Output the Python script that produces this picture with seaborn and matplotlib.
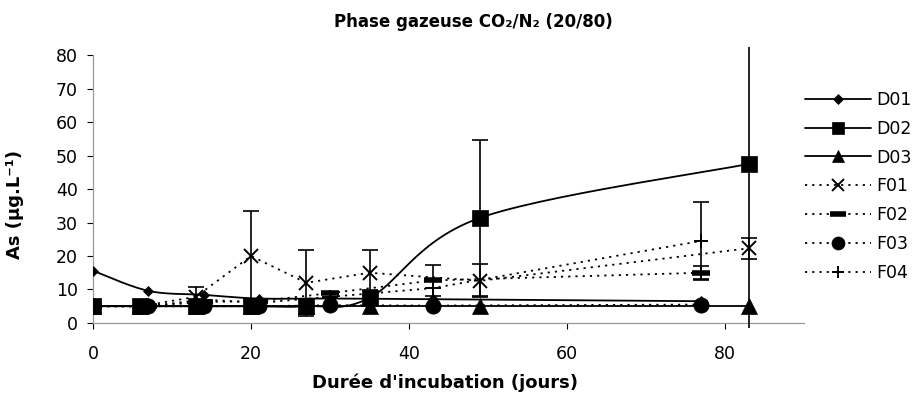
import numpy as np
import pandas as pd
import matplotlib
matplotlib.use("Agg")
import matplotlib.pyplot as plt
import seaborn as sns
from matplotlib.lines import Line2D

# Sampling days (two sampling calendars)
days_a = [0, 6, 13, 20, 27, 35, 49, 83]
days_b = [0, 7, 14, 21, 30, 43, 77]

# Arsenic concentrations (µg/L)
d01 = [15.6, 9.6, 8.4, 7.3, 7.3, 7.1, 6.5]
d02 = [5.0, 5.0, 5.0, 5.0, 5.0, 7.5, 31.4, 47.5]
d02_err = [0, 0, 0, 0, 2.3, 2.3, 23.3, 55.0]
d03 = [5.0, 5.0, 5.0, 5.0, 5.0, 5.0, 5.0, 5.0]
f01 = [5.0, 5.0, 7.8, 20.0, 12.0, 15.0, 12.6, 22.3]
f01_err = [0, 0, 2.8, 13.4, 9.8, 6.7, 4.9, 3.2]
f02 = [5.0, 5.0, 6.3, 6.5, 8.9, 12.7, 15.0]
f02_err = [0, 0, 0, 0, 0, 4.6, 2.0]
f03 = [5.0, 5.0, 5.0, 5.0, 5.3, 5.2, 5.5]
f04 = [5.0, 5.0, 7.0, 6.0, 7.8, 10.4, 24.5]
f04_err = [0, 0, 0, 0, 0, 0, 11.6]

series = [
    # name, days, values, errors, marker, marker size, solid?, smooth?
    ("D01", days_b, d01, None, "D", 5.5, True, True),
    ("D02", days_a, d02, d02_err, "s", 11, True, True),
    ("D03", days_a, d03, None, "^", 11, True, False),
    ("F01", days_a, f01, f01_err, "x", 10, False, False),
    ("F02", days_b, f02, f02_err, "_", 13, False, False),
    ("F03", days_b, f03, None, "o", 11, False, False),
    ("F04", days_b, f04, f04_err, "+", 10, False, False),
]


def smooth_curve(x, y, kx=7.9, ky=3.35, n=30):
    """Bezier smoothing through every point, computed in screen-like units."""
    p = np.column_stack([np.asarray(x, float) * kx, np.asarray(y, float) * ky])
    out = []
    m = len(p)
    for i in range(m - 1):
        p0 = p[i - 1] if i > 0 else p[i]
        p1, p2 = p[i], p[i + 1]
        p3 = p[i + 2] if i + 2 < m else p[i + 1]
        c1 = p1 + (p2 - p0) / 6.0
        c2 = p2 - (p3 - p1) / 6.0
        t = np.linspace(0, 1, n)[:, None]
        seg = ((1 - t) ** 3) * p1 + 3 * ((1 - t) ** 2) * t * c1 + 3 * (1 - t) * t ** 2 * c2 + t ** 3 * p2
        out.append(seg if i == 0 else seg[1:])
    out = np.vstack(out)
    return out[:, 0] / kx, out[:, 1] / ky


sns.set_theme(style="white")
plt.rcParams["font.family"] = ["DejaVu Sans"]
plt.rcParams["text.color"] = "black"
plt.rcParams["axes.labelcolor"] = "black"

fig = plt.figure(figsize=(9.18, 3.96), dpi=100)
ax = fig.add_axes([93 / 918, (396 - 328) / 396, 711 / 918, (328 - 46.7) / 396])

handles = []
for name, days, vals, errs, mk, ms, solid, smooth in series:
    ls = "-" if solid else (0, (1.2, 2.8))
    if smooth:
        sx, sy = smooth_curve(days, vals)
    else:
        sx, sy = np.asarray(days, float), np.asarray(vals, float)
    line_df = pd.DataFrame({"x": sx, "y": sy})
    sns.lineplot(data=line_df, x="x", y="y", ax=ax, color="black", lw=1.3,
                 linestyle=ls, sort=False, estimator=None, zorder=2)
    if errs is not None:
        ax.errorbar(days, vals, yerr=errs, fmt="none", ecolor="black",
                    elinewidth=1.2, capsize=5.5, capthick=1.2, zorder=3)
    mew = 4 if mk == "_" else (1.4 if mk in ("x", "+") else 0.5)
    ax.plot(days, vals, linestyle="none", marker=mk, markersize=ms,
            color="black", markeredgecolor="black", markeredgewidth=mew, zorder=4)
    handles.append(Line2D([], [], color="black", lw=1.3, linestyle=ls, marker=mk,
                          markersize=ms * 0.85, markeredgewidth=mew))

ax.set_xlim(0, 90)
ax.set_ylim(-1.5, 82.5)
ax.set_xticks([0, 20, 40, 60, 80])
ax.set_yticks(range(0, 81, 10))
ax.tick_params(axis="both", labelsize=12.5, colors="black", length=4, width=0.8,
               direction="out", left=True, bottom=True)
for t in ax.xaxis.get_ticklines() + ax.yaxis.get_ticklines():
    t.set_color("#9a9a9a")

for s in ("top", "right"):
    ax.spines[s].set_visible(False)
ax.spines["left"].set_bounds(0, 80)
ax.spines["bottom"].set_position(("data", 0))
for s in ("left", "bottom"):
    ax.spines[s].set_color("#9a9a9a")
    ax.spines[s].set_linewidth(0.9)
ax.xaxis.set_tick_params(pad=12)
ax.yaxis.set_tick_params(pad=7)

ax.set_xlabel("")
ax.set_ylabel("As (µg.L⁻¹)", fontsize=13, fontweight="bold")
ax.yaxis.set_label_coords(-0.097, 0.44)
fig.text(445 / 918, 1 - 383 / 396, "Durée d'incubation (jours)", ha="center",
         va="center", fontsize=13, fontweight="bold")
fig.text(473 / 918, 1 - 22 / 396, "Phase gazeuse CO₂/N₂ (20/80)", ha="center",
         va="center", fontsize=12, fontweight="bold")

leg = fig.legend(handles, [s[0] for s in series], loc="upper left",
                 frameon=False, fontsize=12.5, handlelength=3.8,
                 handletextpad=0.3, labelspacing=0.62, borderaxespad=0,
                 borderpad=0)
leg.set_bbox_to_anchor((805 / 918, (396 - 91) / 396), transform=fig.transFigure)

fig.savefig("out.png", dpi=100, facecolor="white")
